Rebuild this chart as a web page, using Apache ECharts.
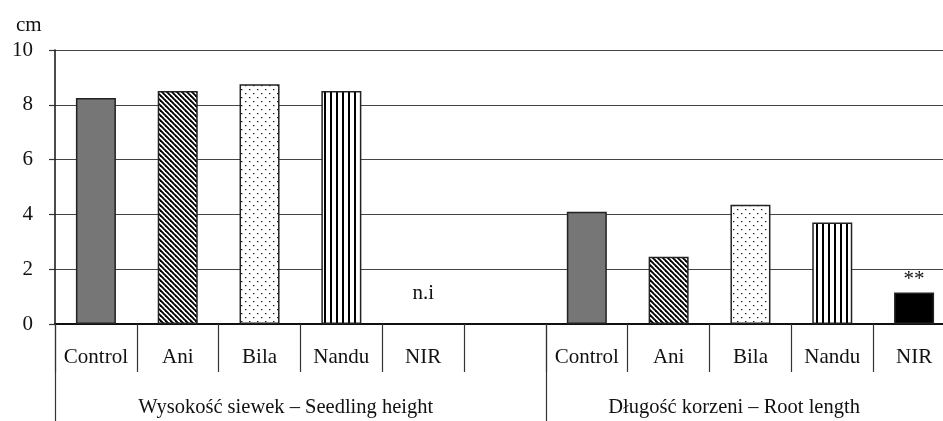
<!DOCTYPE html>
<html>
<head>
<meta charset="utf-8">
<script src="https://cdn.jsdelivr.net/npm/echarts@6/dist/echarts.min.js"></script>
<style>html,body{margin:0;padding:0;background:#fff}#c{width:943px;height:421px}</style>
</head>
<body>
<div id="c"></div>
<script>
// ---- data ----
var categories = ['Control', 'Ani', 'Bila', 'Nandu', 'NIR', '', 'Control', 'Ani', 'Bila', 'Nandu', 'NIR'];
var values = [8.25, 8.5, 8.75, 8.5, 0, null, 4.1, 2.45, 4.35, 3.7, 1.15];
var fills = ['gray', 'diag', 'dots', 'vert', 'none', 'none', 'gray', 'diag', 'dots', 'vert', 'black'];
var notes = ['', '', '', '', 'n.i', '', '', '', '', '', '**'];
var groupNames = ['Wysokość siewek – Seedling height', 'Długość korzeni – Root length'];
var groupStarts = [0, 6];
var yTicks = [0, 2, 4, 6, 8, 10];
var unit = 'cm';

var FONT = 'Liberation Serif';

function makePattern(w, h, draw) {
  var c = document.createElement('canvas');
  c.width = w; c.height = h;
  var g = c.getContext('2d');
  g.fillStyle = '#fff';
  g.fillRect(0, 0, w, h);
  draw(g);
  return { image: c, repeat: 'repeat' };
}
var patterns = {
  gray: '#767676',
  black: '#000000',
  none: 'rgba(0,0,0,0)',
  diag: makePattern(5, 5, function (g) {
    g.strokeStyle = '#000'; g.lineWidth = 1.9;
    [-5, 0, 5].forEach(function (k) { g.beginPath(); g.moveTo(k - 1, -1); g.lineTo(k + 6, 6); g.stroke(); });
  }),
  dots: makePattern(8, 8, function (g) {
    g.fillStyle = '#222';
    g.fillRect(1, 1, 1.4, 1.2);
    g.fillRect(5, 5, 1.4, 1.2);
  }),
  vert: makePattern(6, 2, function (g) {
    g.fillStyle = '#000';
    g.fillRect(0, 0, 2, 2);
  })
};

var barData = values.map(function (v, i) {
  var f = fills[i];
  var item = {
    value: v,
    itemStyle: {
      color: patterns[f],
      borderColor: f === 'none' ? 'rgba(0,0,0,0)' : '#222',
      borderWidth: f === 'none' ? 0 : 1.5
    }
  };
  if (notes[i]) {
    item.label = {
      show: true,
      position: 'top',
      formatter: notes[i],
      distance: notes[i] === 'n.i' ? 20 : 3,
      fontFamily: FONT,
      fontSize: 21,
      color: '#111'
    };
  }
  return item;
});

var chart = echarts.init(document.getElementById('c'));

var option = {
  animation: false,
  backgroundColor: '#fff',
  title: {
    text: unit, left: 11, top: 10,
    textStyle: { fontFamily: FONT, fontSize: 21, fontWeight: 'normal', color: '#111' }
  },
  grid: { left: 55, top: 50, width: 900, height: 274, outerBoundsMode: 'none', containLabel: false },
  xAxis: [
    {
      type: 'category', data: categories, position: 'bottom',
      axisLine: { show: true, lineStyle: { color: '#111', width: 2 } },
      axisTick: { show: true, interval: 0, length: 48, lineStyle: { color: '#333', width: 1.2 } },
      axisLabel: { interval: 0, margin: 23, fontFamily: FONT, fontSize: 21, color: '#111' },
      splitLine: { show: false }
    },
    {
      type: 'category', data: categories, position: 'bottom',
      axisLine: { show: false },
      axisTick: {
        show: true, length: 100,
        interval: function (i) { return groupStarts.indexOf(i) >= 0; },
        lineStyle: { color: '#333', width: 1.2 }
      },
      axisLabel: { show: false },
      splitLine: { show: false }
    }
  ],
  yAxis: {
    type: 'value', min: yTicks[0], max: yTicks[yTicks.length - 1], interval: yTicks[1] - yTicks[0],
    axisLine: { show: true, lineStyle: { color: '#111', width: 1.5 } },
    axisTick: { show: true, length: 6, lineStyle: { color: '#333', width: 1.2 } },
    axisLabel: { margin: 22, fontFamily: FONT, fontSize: 21, color: '#111' },
    splitLine: { show: true, lineStyle: { color: '#444', width: 1.2 } }
  },
  series: [{
    type: 'bar', xAxisIndex: 0, data: barData, barWidth: 40
  }]
};
chart.setOption(option);

// group labels under the category labels
var groupCenters = [2.32, 7.8];
var graphics = groupNames.map(function (name, gi) {
  var x0 = chart.convertToPixel({ xAxisIndex: 0 }, 0);
  var step = chart.convertToPixel({ xAxisIndex: 0 }, 1) - x0;
  return {
    type: 'text', x: x0 + groupCenters[gi] * step, y: 408,
    style: { text: name, fontFamily: FONT, fontSize: 20.5, fill: '#111', align: 'center', verticalAlign: 'middle' }
  };
});
chart.setOption({ graphic: graphics });
</script>
</body>
</html>
